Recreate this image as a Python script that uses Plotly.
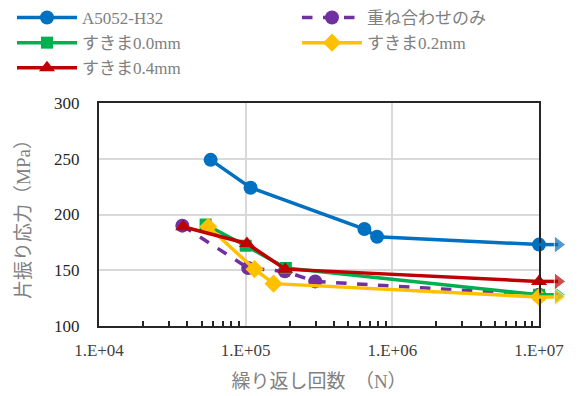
import plotly.graph_objects as go

# data
names = ["A5052-H32", "重ね合わせのみ", "すきま0.0mm", "すきま0.2mm", "すきま0.4mm"]
colors = ["#0070C0", "#7030A0", "#00B050", "#FFC000", "#C00000"]
symbols = ["circle", "circle", "square", "diamond", "triangle-up"]
dashes = ["solid", "dash", "solid", "solid", "solid"]
legend_col = ["legend", "legend2", "legend", "legend2", "legend"]

blue_x = [5.77e4, 1.08e5, 6.45e5, 7.87e5, 1.0e7]
blue_y = [249, 224, 187, 180, 173]
purple_x = [3.7e4, 1.04e5, 1.85e5, 2.98e5, 1.0e7]
purple_y = [190, 152, 149, 140, 128]
green_x = [5.33e4, 1.0e5, 1.88e5, 1.0e7]
green_y = [191, 172, 152, 128]
yellow_x = [5.56e4, 1.15e5, 1.55e5, 1.0e7]
yellow_y = [189, 151, 138, 126]
red_x = [3.75e4, 1.02e5, 1.86e5, 1.0e7]
red_y = [189, 174, 151, 140]

runout_x = 1.35e7
runout = [True, False, True, True, True]

xs = [blue_x, purple_x, green_x, yellow_x, red_x]
ys = [blue_y, purple_y, green_y, yellow_y, red_y]
msize = [14, 14, 12, 14, 14]

xtick_vals = [1e4, 1e5, 1e6, 1e7]
xtick_text = ["1.E+04", "1.E+05", "1.E+06", "1.E+07"]

W, H = 581, 396
ML, MR, MT, MB = 99, 11, 103, 70
plot_w = W - ML - MR
main_w = 440
dom_end = main_w / plot_w
decade_px = main_w / 3.0
x2_max = 4 + plot_w / decade_px

fig = go.Figure()
# run-out arrows (on an extended overlay axis so they can sit outside the frame)
for i in range(5):
    if runout[i]:
        fig.add_trace(go.Scatter(
            x=[xs[i][-1], runout_x], y=[ys[i][-1], ys[i][-1]],
            xaxis="x2", yaxis="y2",
            mode="lines+markers",
            line=dict(color=colors[i], width=3.5),
            marker=dict(symbol=["circle", "triangle-right"], size=[0, 15], color=colors[i]),
            showlegend=False, hoverinfo="skip"))
# main traces
for i in range(5):
    fig.add_trace(go.Scatter(
        x=xs[i], y=ys[i], name=names[i], mode="lines+markers",
        line=dict(color=colors[i], width=3.5, dash=dashes[i]),
        marker=dict(symbol=symbols[i], size=msize[i], color=colors[i]),
        cliponaxis=False, legend=legend_col[i]))

leg_common = dict(orientation="h", yref="container", xref="container",
                  xanchor="left", yanchor="top", y=1.0,
                  entrywidth=215, entrywidthmode="pixels",
                  font=dict(size=17, color="#808080", family="Liberation Serif, Noto Sans CJK JP"),
                  tracegroupgap=0, itemwidth=60, bgcolor="rgba(0,0,0,0)")

fig.update_layout(
    width=W, height=H,
    margin=dict(l=ML, r=MR, t=MT, b=MB, autoexpand=False),
    paper_bgcolor="white", plot_bgcolor="rgba(0,0,0,0)",
    font=dict(family="Liberation Serif, Noto Sans CJK JP", color="#404040", size=16),
    legend=dict(x=12 / W, **leg_common),
    legend2=dict(x=297 / W, **leg_common),
    showlegend=True,
    xaxis=dict(
        domain=[0, dom_end], automargin=False,
        type="log", range=[4, 7], tickvals=xtick_vals, ticktext=xtick_text,
        showgrid=True, gridcolor="#D9D9D9", gridwidth=1.5,
        showline=True, linecolor="#262626", linewidth=2, mirror=True,
        ticks="", tickfont=dict(size=17, color="#404040"), ticklabelstandoff=8,
        minor=dict(ticks="inside", ticklen=5, tickcolor="#262626", tickwidth=1.5,
                   tickvals=[m * 10 ** e for e in range(4, 7) for m in range(2, 10)], showgrid=False),
        title=dict(text="繰り返し回数　（N）", font=dict(size=19, color="#808080"), standoff=15),
        zeroline=False,
    ),
    yaxis=dict(
        range=[100, 300], dtick=50, automargin=False,
        showgrid=True, gridcolor="#D9D9D9", gridwidth=1.5,
        showline=True, linecolor="#262626", linewidth=2, mirror=True,
        ticks="", tickfont=dict(size=17, color="#262626"), ticklabelstandoff=14,
        title=dict(text="片振り応力（MPa）", font=dict(size=19, color="#808080"), standoff=18),
        zeroline=False,
    ),
    xaxis2=dict(domain=[0, 1], range=[4, x2_max], type="log", anchor="y2", visible=False),
    yaxis2=dict(domain=[0, 1], range=[100, 300], anchor="x2", visible=False),
)
fig.write_html("out.html", config={"displayModeBar": False},
               post_script="document.body.style.margin='0';document.body.style.overflow='hidden';")
